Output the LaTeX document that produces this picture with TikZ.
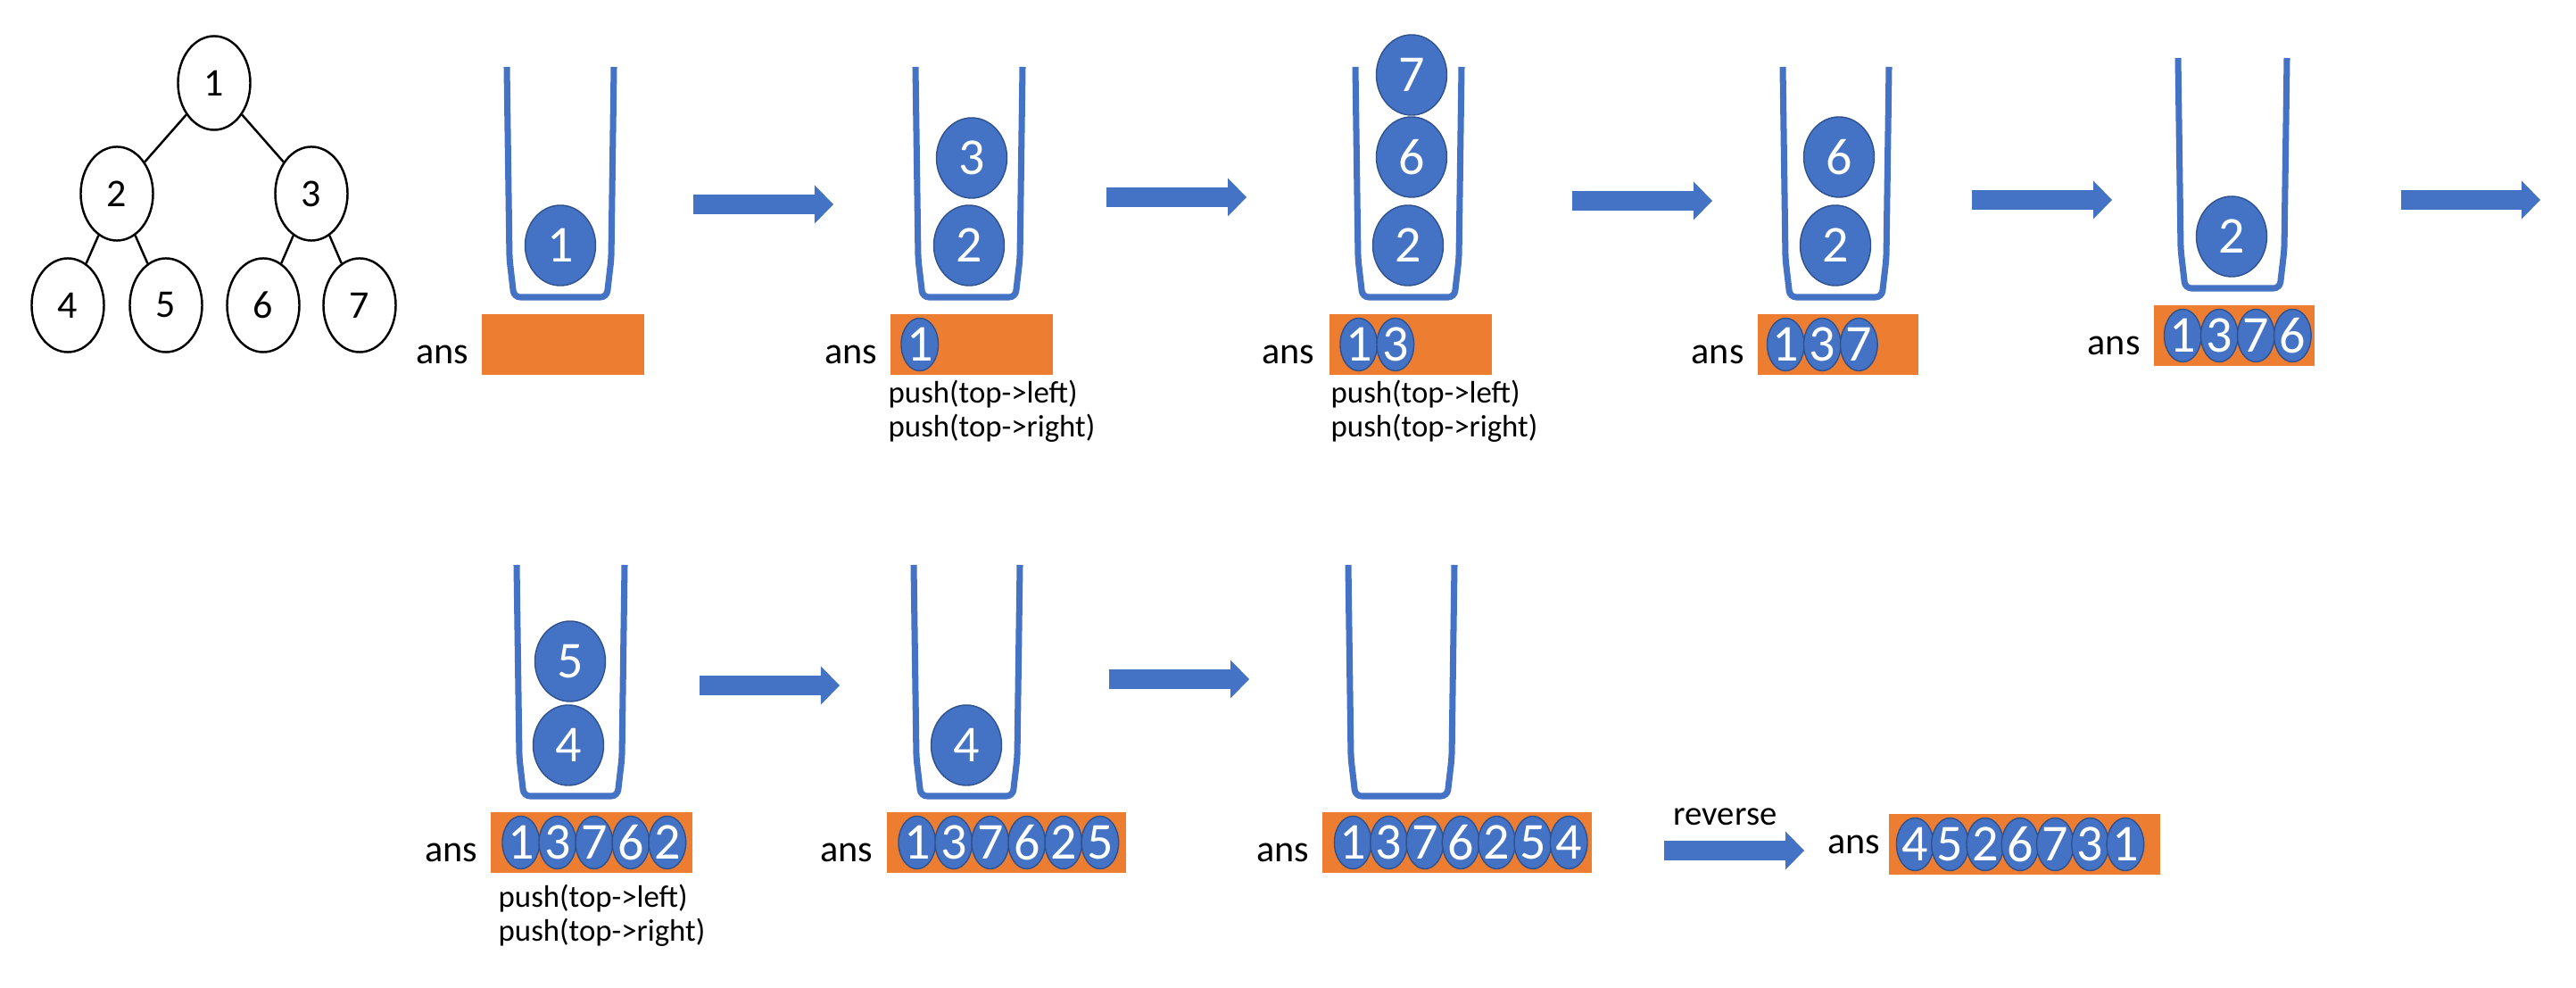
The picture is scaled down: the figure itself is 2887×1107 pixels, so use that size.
\documentclass[tikz,border=0pt]{standalone}
\usepackage{fontspec}
\setmainfont{Carlito}
\usetikzlibrary{positioning,shapes.geometric,arrows.meta}
\definecolor{azul}{HTML}{4472C4}
\definecolor{azulosc}{HTML}{2F528F}
\definecolor{naranja}{HTML}{ED7D31}

\begin{document}
\begin{tikzpicture}[x=0.01cm, y=-0.01cm, node distance=0.41cm,
    arbol/.style={draw, ellipse, line width=0.7pt, minimum width=0.81cm, minimum height=1.05cm, inner sep=0pt, font=\fontsize{12.5}{14}\selectfont},
    vaso/.style={draw=azul, line width=2pt, rounded corners=2pt},
    bola/.style={ellipse, fill=azul, draw=azulosc, line width=0.4pt, minimum width=0.79cm, minimum height=0.9cm, inner sep=0pt, text=white, font=\fontsize{16.5}{18}\selectfont},
    bolita/.style={bola, minimum width=0.36cm, minimum height=0.59cm},
    caja/.style={fill=naranja, minimum height=0.68cm, inner sep=0pt},
    etiq/.style={font=\fontsize{12}{14}\selectfont, inner sep=0pt},
    nota/.style={font=\fontsize{9.9}{11}\selectfont, inner sep=0pt, anchor=base west},
    flecha/.style={azul, line width=0.22cm, -{Triangle[length=0.21cm, width=0.43cm, line width=0pt]}}]
    \useasboundingbox (0,0) rectangle (2887,1107);

    % arbol
    \node (N1) [arbol] at (240,93) {1};
    \node (N2) [arbol] at (131,217) {2};
    \node (N3) [arbol] at (349,217) {3};
    \node (N4) [arbol] at (76,342) {4};
    \node (N5) [arbol] at (186,342) {5};
    \node (N6) [arbol] at (295,342) {6};
    \node (N7) [arbol] at (403,342) {7};
    \draw[line width=0.7pt] (N1) -- (N2);
    \draw[line width=0.7pt] (N1) -- (N3);
    \draw[line width=0.7pt] (N2) -- (N4);
    \draw[line width=0.7pt] (N2) -- (N5);
    \draw[line width=0.7pt] (N3) -- (N6);
    \draw[line width=0.7pt] (N3) -- (N7);

    % paso 1
    \draw[vaso] (568,75) -- (571,290) -- (576,333) -- (680,333) -- (685,290) -- (688,75);
    \node (P1a) [bola] at (628,275) {1};
    \node (ans1) [caja, minimum width=1.81cm] at (631,386) {};
    \node (t1) [etiq, left=0.14cm of ans1, yshift=-0.11cm] {ans};
    \coordinate (f1a) at (777,229);
    \coordinate (f1b) at (934,229);
    \draw[flecha] (f1a) -- (f1b);

    % paso 2
    \draw[vaso] (1026,75) -- (1029,290) -- (1034,333) -- (1138,333) -- (1143,290) -- (1146,75);
    \node (P2a) [bola] at (1086,275) {2};
    \node (P2b) [bola] at (1089,177) {3};
    \node (ans2) [caja, minimum width=1.81cm] at (1089,386) {};
    \node (t2) [etiq, left=0.14cm of ans2, yshift=-0.11cm] {ans};
    \node (c2a) [bolita] at ([xshift=0.33cm]ans2.west) {1};
    \node (push2a) [nota] at (995,452) {push(top->left)};
    \node (push2b) [nota] at (995,490) {push(top->right)};
    \coordinate (f2a) at (1240,221);
    \coordinate (f2b) at (1397,221);
    \draw[flecha] (f2a) -- (f2b);

    % paso 3
    \draw[vaso] (1519,75) -- (1522,290) -- (1527,333) -- (1630,333) -- (1635,290) -- (1638,75);
    \node (P3a) [bola] at (1578,275) {2};
    \node (P3b) [bola] at (1582,176) {6};
    \node (P3c) [bola] at (1582,84) {7};
    \node (ans3) [caja, minimum width=1.81cm] at (1581,386) {};
    \node (t3) [etiq, left=0.16cm of ans3, yshift=-0.11cm] {ans};
    \node (c3a) [bolita] at ([xshift=0.33cm]ans3.west) {1};
    \node (c3b) [bolita, right of=c3a] {3};
    \node (push3a) [nota] at (1491,452) {push(top->left)};
    \node (push3b) [nota] at (1491,490) {push(top->right)};
    \coordinate (f3a) at (1762,225);
    \coordinate (f3b) at (1919,225);
    \draw[flecha] (f3a) -- (f3b);

    % paso 4
    \draw[vaso] (1998,75) -- (2001,290) -- (2006,333) -- (2109,333) -- (2114,290) -- (2117,75);
    \node (P4a) [bola] at (2057,275) {2};
    \node (P4b) [bola] at (2061,176) {6};
    \node (ans4) [caja, minimum width=1.8cm] at (2060,386) {};
    \node (t4) [etiq, left=0.14cm of ans4, yshift=-0.11cm] {ans};
    \node (c4a) [bolita] at ([xshift=0.32cm]ans4.west) {1};
    \node (c4b) [bolita, right of=c4a] {3};
    \node (c4c) [bolita, right of=c4b] {7};
    \coordinate (f4a) at (2210,224);
    \coordinate (f4b) at (2367,224);
    \draw[flecha] (f4a) -- (f4b);

    % paso 5
    \draw[vaso] (2441,65) -- (2444,280) -- (2449,323) -- (2555,323) -- (2560,280) -- (2563,65);
    \node (P5a) [bola] at (2501,265) {2};
    \node (ans5) [caja, minimum width=1.8cm] at (2504,376) {};
    \node (t5) [etiq, left=0.14cm of ans5, yshift=-0.11cm] {ans};
    \node (c5a) [bolita] at ([xshift=0.33cm]ans5.west) {1};
    \node (c5b) [bolita, right of=c5a] {3};
    \node (c5c) [bolita, right of=c5b] {7};
    \node (c5d) [bolita, right of=c5c] {6};
    \coordinate (f5a) at (2691,224);
    \coordinate (f5b) at (2847,224);
    \draw[flecha] (f5a) -- (f5b);

    % paso 6
    \draw[vaso] (579,633) -- (582,849) -- (587,892) -- (692,892) -- (697,849) -- (700,633);
    \node (P6a) [bola] at (637,835) {4};
    \node (P6b) [bola] at (639,741) {5};
    \node (ans6) [caja, minimum width=2.25cm] at (663,944) {};
    \node (t6) [etiq, left=0.14cm of ans6, yshift=-0.11cm] {ans};
    \node (c6a) [bolita] at ([xshift=0.34cm]ans6.west) {1};
    \node (c6b) [bolita, right of=c6a] {3};
    \node (c6c) [bolita, right of=c6b] {7};
    \node (c6d) [bolita, right of=c6c] {6};
    \node (c6e) [bolita, right of=c6d] {2};
    \node (push6a) [nota] at (558,1017) {push(top->left)};
    \node (push6b) [nota] at (558,1055) {push(top->right)};
    \coordinate (f6a) at (784,768);
    \coordinate (f6b) at (941,768);
    \draw[flecha] (f6a) -- (f6b);

    % paso 7
    \draw[vaso] (1024,633) -- (1027,849) -- (1032,892) -- (1135,892) -- (1140,849) -- (1143,633);
    \node (P7a) [bola] at (1083,835) {4};
    \node (ans7) [caja, minimum width=2.67cm] at (1128,944) {};
    \node (t7) [etiq, left=0.15cm of ans7, yshift=-0.11cm] {ans};
    \node (c7a) [bolita] at ([xshift=0.34cm]ans7.west) {1};
    \node (c7b) [bolita, right of=c7a] {3};
    \node (c7c) [bolita, right of=c7b] {7};
    \node (c7d) [bolita, right of=c7c] {6};
    \node (c7e) [bolita, right of=c7d] {2};
    \node (c7f) [bolita, right of=c7e] {5};
    \coordinate (f7a) at (1243,761);
    \coordinate (f7b) at (1400,761);
    \draw[flecha] (f7a) -- (f7b);

    % paso 8
    \draw[vaso] (1511,633) -- (1514,849) -- (1519,892) -- (1622,892) -- (1627,849) -- (1630,633);
    \node (ans8) [caja, minimum width=3.01cm] at (1633,944) {};
    \node (t8) [etiq, left=0.14cm of ans8, yshift=-0.11cm] {ans};
    \node (c8a) [bolita] at ([xshift=0.345cm]ans8.west) {1};
    \node (c8b) [bolita, right of=c8a, node distance=0.403cm] {3};
    \node (c8c) [bolita, right of=c8b, node distance=0.403cm] {7};
    \node (c8d) [bolita, right of=c8c, node distance=0.403cm] {6};
    \node (c8e) [bolita, right of=c8d, node distance=0.403cm] {2};
    \node (c8f) [bolita, right of=c8e, node distance=0.403cm] {5};
    \node (c8g) [bolita, right of=c8f, node distance=0.403cm] {4};

    % reverse
    \node (rev) [nota, font=\fontsize{11}{13}\selectfont] at (1875,925) {reverse};
    \coordinate (f8a) at (1865,953);
    \coordinate (f8b) at (2022,953);
    \draw[flecha] (f8a) -- (f8b);
    \node (ans9) [caja, minimum width=3.03cm] at (2269,946) {};
    \node (t9) [etiq, left=0.09cm of ans9] {ans};
    \node (c9a) [bolita] at ([xshift=0.295cm]ans9.west) {4};
    \node (c9b) [bolita, right of=c9a, node distance=0.3925cm] {5};
    \node (c9c) [bolita, right of=c9b, node distance=0.3925cm] {2};
    \node (c9d) [bolita, right of=c9c, node distance=0.3925cm] {6};
    \node (c9e) [bolita, right of=c9d, node distance=0.3925cm] {7};
    \node (c9f) [bolita, right of=c9e, node distance=0.3925cm] {3};
    \node (c9g) [bolita, right of=c9f, node distance=0.3925cm] {1};
\end{tikzpicture}
\end{document}
